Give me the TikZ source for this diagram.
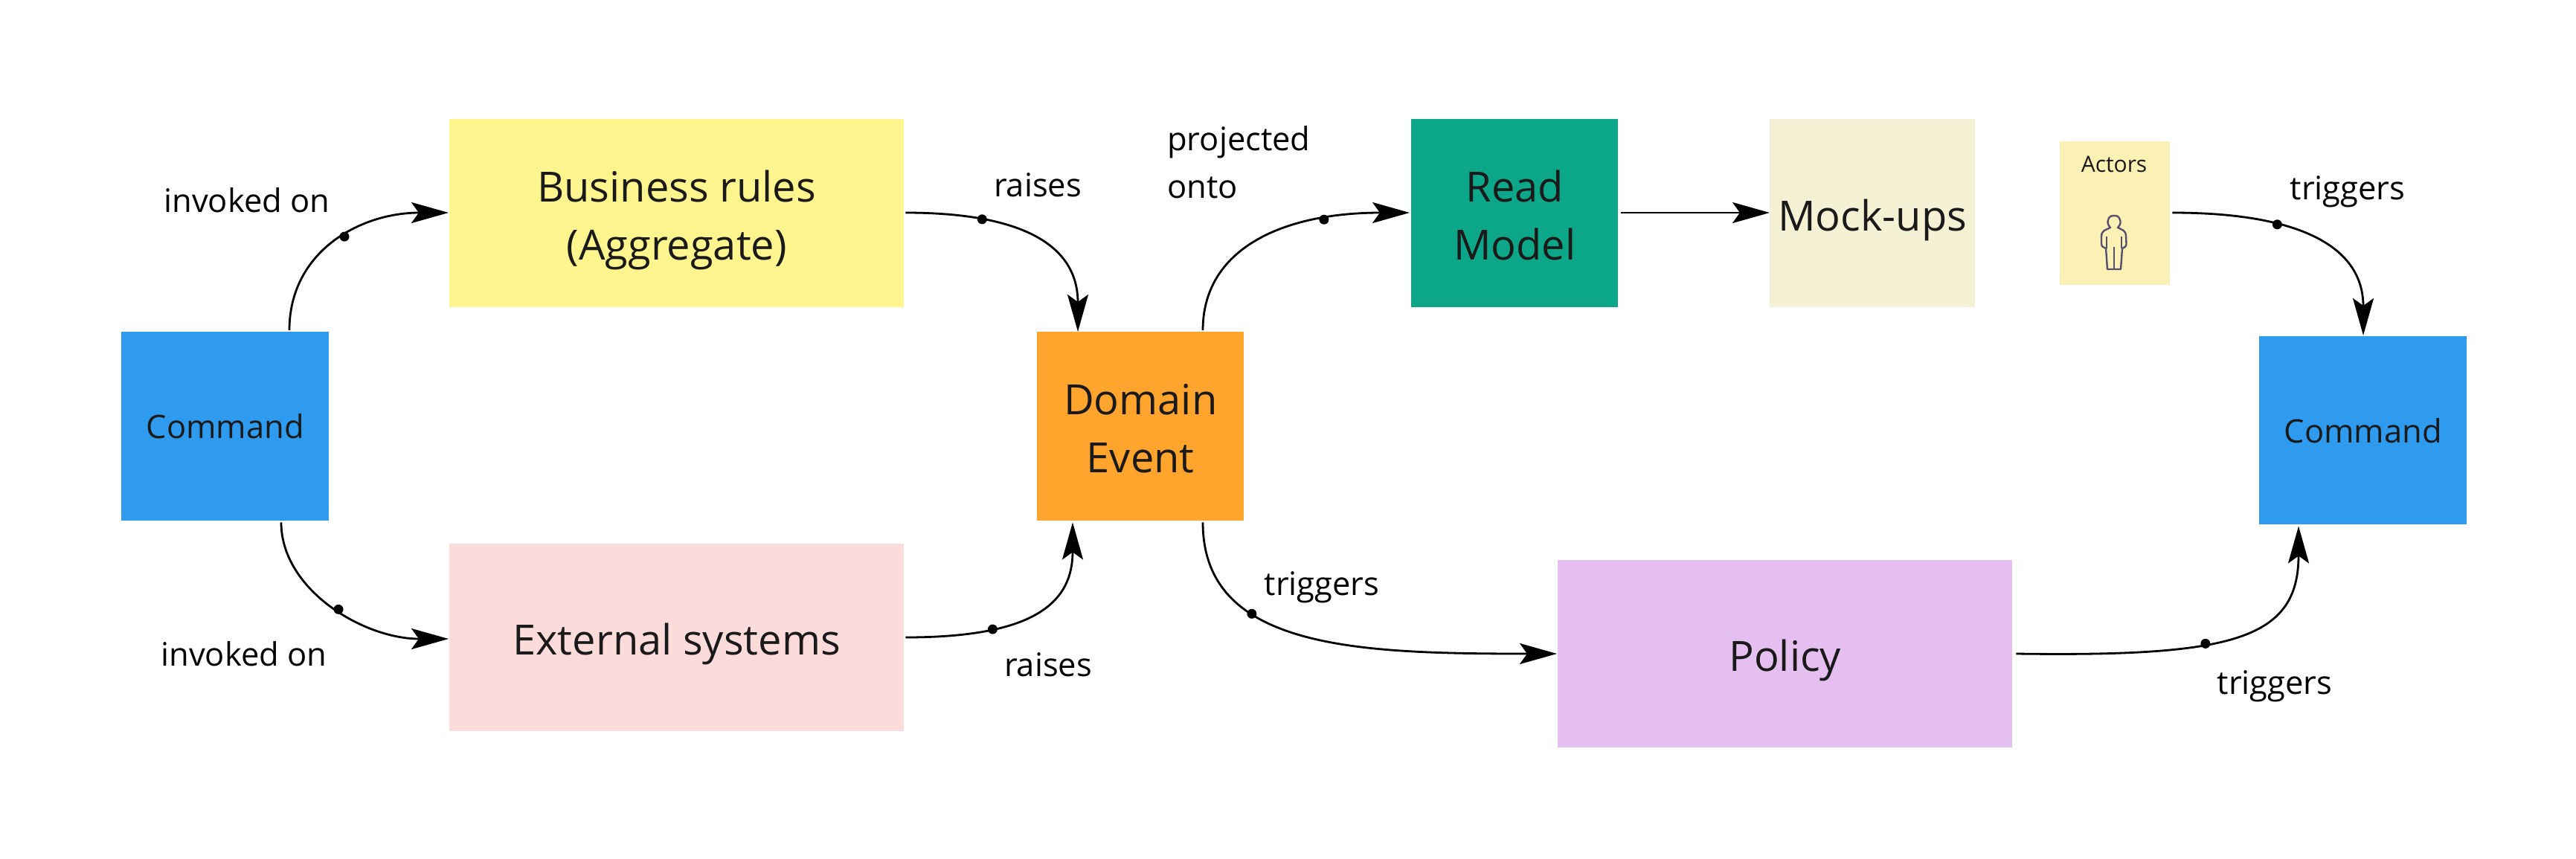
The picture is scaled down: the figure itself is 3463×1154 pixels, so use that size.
\documentclass[tikz,border=0pt]{standalone}
\usepackage{fontspec}
\setmainfont{Open Sans}
\usetikzlibrary{arrows.meta}
\definecolor{cblue}{HTML}{2F9BEF}
\definecolor{cyellow}{HTML}{FFF58F}
\definecolor{cpink}{HTML}{FCDBDB}
\definecolor{corange}{HTML}{FFA42C}
\definecolor{cgreen}{HTML}{0CA789}
\definecolor{ccream}{HTML}{F5F1D4}
\definecolor{cpurple}{HTML}{E4BFEF}
\definecolor{cactor}{HTML}{FCF1B5}
\definecolor{ctext}{HTML}{1A1A1A}
\definecolor{cicon}{HTML}{55506E}
\newcommand{\topst}{\rule{0pt}{62pt}}
\newcommand{\botst}{\rule[-15pt]{0pt}{15pt}}
\tikzset{
  x=1pt,y=-1pt,
  sticky/.style={anchor=north west,inner sep=0pt,align=center,text=ctext,font=\fontsize{56}{78}\selectfont},
  smalltext/.style={font=\fontsize{43.5}{56}\selectfont},
  lbl/.style={inner sep=0pt,text=black,align=left,font=\fontsize{43.5}{64}\selectfont},
  conn/.style={line width=2.8pt,-{Stealth[length=50pt,width=28pt,inset=10pt]}},
  dotmark/.style={circle,fill=black,inner sep=0pt,minimum size=13pt},
}
\begin{document}
\begin{tikzpicture}
\useasboundingbox (0,0) rectangle (3463,1154);
\fill[white] (0,0) rectangle (3463,1154);
\node[sticky,smalltext,fill=cblue,minimum width=279pt,minimum height=254pt] (cmdL) at (163,446) {Command};
\node[sticky,fill=cyellow,minimum width=611pt,minimum height=253pt] (biz) at (604,160) {\topst Business rules\\(Aggregate)\botst};
\node[sticky,fill=cpink,minimum width=611pt,minimum height=252pt] (ext) at (604,731) {\topst External systems\botst};
\node[sticky,fill=corange,minimum width=278pt,minimum height=254pt] (evt) at (1394,446) {\topst Domain\\Event\botst};
\node[sticky,fill=cgreen,minimum width=278pt,minimum height=253pt] (read) at (1897,160) {\topst Read\\Model\botst};
\node[sticky,fill=ccream,minimum width=276pt,minimum height=253pt] (mock) at (2379,160) {\topst Mock-ups\botst};
\node[sticky,fill=cpurple,minimum width=611pt,minimum height=252pt] (pol) at (2094,753) {\topst Policy\botst};
\node[sticky,fill=cactor,minimum width=148pt,minimum height=193pt] (act) at (2769,190) {};
\node[inner sep=0pt,text=ctext,font=\fontsize{30}{36}\selectfont] (actlbl) at (2842,221) {Actors};
\node[sticky,smalltext,fill=cblue,minimum width=279pt,minimum height=253pt] (cmdR) at (3037,452) {Command};
% icon
\draw[cicon,line width=2.4pt,line join=round]
  (2837,306) .. controls (2833,302) and (2833,298) .. (2834,296)
  .. controls (2835,291) and (2838,290) .. (2842,290)
  .. controls (2846,290) and (2849,291) .. (2850,296)
  .. controls (2851,298) and (2851,302) .. (2847,306)
  .. controls (2852,309) and (2858,309) .. (2858,318)
  -- (2858.5,328) .. controls (2858.5,332) and (2855,333) .. (2853,334)
  -- (2851,362) -- (2833,362) -- (2831,334)
  .. controls (2829,333) and (2825,332) .. (2825,328)
  -- (2825,318) .. controls (2825,309) and (2832,309) .. (2837,306) -- cycle;
\draw[cicon,line width=2.4pt] (2842,332) -- (2842,362) (2832,318) -- (2832,334) (2852,318) -- (2852,334);
% labels
\node[lbl] (l1) at (332,269) {invoked on};
\node[lbl] (l2) at (328,879) {invoked on};
\node[lbl] (l3) at (1395,249) {raises};
\node[lbl] (l4) at (1409,894) {raises};
\node[lbl,anchor=west] (l5) at (1569,218) {projected\\onto};
\node[lbl] (l6) at (1777,790) {triggers};
\node[lbl] (l7) at (3058,923) {triggers};
\node[lbl] (l8) at (3156,258) {triggers};
% connectors
\draw[conn] ([shift={(226,-2)}]cmdL.north west) .. controls +(0,-105) and +(-120,0) .. ([shift={(-1,126)}]biz.north west) node[dotmark,pos=0.55]{};
\draw[conn] ([shift={(215,2)}]cmdL.south west) .. controls +(0,90) and +(-115,0) .. ([shift={(-1,128)}]ext.north west) node[dotmark,pos=0.53]{};
\draw[conn] ([shift={(2,126)}]biz.north east) .. controls +(150,0) and +(0,-120) .. ([shift={(55,0)}]evt.north west) node[dotmark,pos=0.26]{};
\draw[conn] ([shift={(2,126)}]ext.north east) .. controls +(170,0) and +(0,110) .. ([shift={(48,2)}]evt.south west) node[dotmark,pos=0.28]{};
\draw[conn] ([shift={(223,-2)}]evt.north west) .. controls +(0,-110) and +(-170,0) .. ([shift={(-2,126)}]read.north west) node[dotmark,pos=0.75]{};
\draw[conn] ([shift={(4,126)}]read.north east) -- ([shift={(0,126)}]mock.north west);
\draw[conn] ([shift={(223,2)}]evt.south west) .. controls +(0,170) and +(-270,0) .. ([shift={(-1,126)}]pol.north west) node[dotmark,pos=0.34]{};
\draw[conn] ([shift={(5,126)}]pol.north east) .. controls +(290,4) and +(0,153) .. ([shift={(53,2)}]cmdR.south west) node[dotmark,pos=0.39]{};
\draw[conn] ([shift={(3,96)}]act.north east) .. controls +(170,0) and +(0,-120) .. ([shift={(140,-1)}]cmdR.north west) node[dotmark,pos=0.33]{};
\end{tikzpicture}
\end{document}
